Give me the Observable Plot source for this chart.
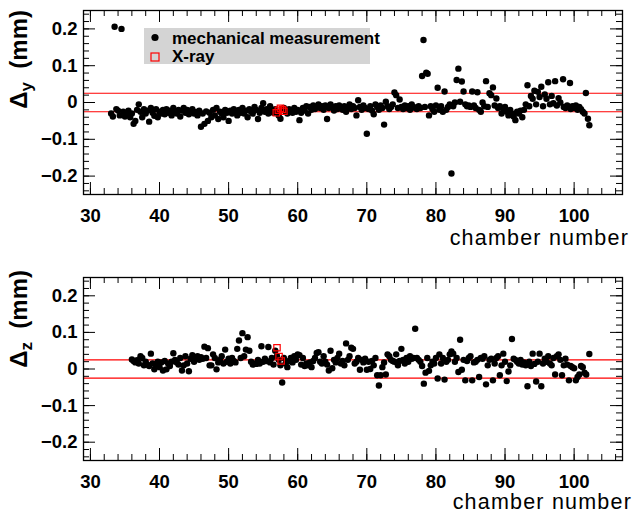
<!DOCTYPE html>
<html><head><meta charset="utf-8">
<script src="https://cdn.jsdelivr.net/npm/d3@7"></script>
<script src="https://cdn.jsdelivr.net/npm/@observablehq/plot@0.6"></script>
<style>
body{margin:0;background:#fff}
#c{width:634px;height:513px;overflow:hidden}
#c svg{display:block}
</style>
</head><body><div id="c"></div>
<script>
// [chamber number, Δy (mm)] – mechanical measurement
const mechY = [
[33.0,-0.030],[33.25,-0.038],[33.5,0.206],[33.75,-0.018],[34.0,-0.022],[34.25,-0.035],[34.5,0.200],[34.75,-0.025],
[35.0,-0.038],[35.25,-0.028],[35.5,-0.022],[35.75,-0.040],[36.0,-0.030],[36.25,-0.058],[36.5,-0.050],[36.75,-0.020],
[37.0,-0.005],[37.25,-0.025],[37.5,-0.040],[37.75,-0.018],[38.0,-0.030],[38.25,-0.022],[38.5,-0.052],[38.75,-0.015],
[39.0,-0.028],[39.25,-0.036],[39.5,-0.018],[39.75,-0.040],[40.0,-0.025],[40.25,-0.030],[40.5,-0.020],[40.75,-0.032],
[41.0,-0.018],[41.25,-0.028],[41.5,-0.022],[41.75,-0.035],[42.0,-0.015],[42.25,-0.025],[42.5,-0.030],[42.75,-0.020],
[43.0,-0.038],[43.25,-0.022],[43.5,-0.015],[43.75,-0.028],[44.0,-0.020],[44.25,-0.032],[44.5,-0.024],[44.75,-0.018],
[45.0,-0.030],[45.25,-0.026],[45.5,-0.035],[45.75,-0.022],[46.0,-0.066],[46.25,-0.030],[46.5,-0.058],[46.75,-0.024],
[47.0,-0.050],[47.25,-0.028],[47.5,-0.040],[47.75,-0.020],[48.0,-0.035],[48.25,-0.015],[48.5,-0.045],[48.75,-0.025],
[49.0,-0.030],[49.25,-0.040],[49.5,-0.020],[49.75,-0.028],[50.0,-0.050],[50.25,-0.022],[50.5,-0.030],[50.75,-0.018],
[51.0,-0.025],[51.25,-0.035],[51.5,-0.020],[51.75,-0.028],[52.0,-0.015],[52.25,-0.030],[52.5,-0.022],[52.75,-0.040],
[53.0,-0.018],[53.25,-0.025],[53.5,-0.030],[53.75,-0.012],[54.0,-0.020],[54.25,-0.045],[54.5,-0.028],[54.75,-0.015],
[55.0,-0.002],[55.25,-0.025],[55.5,-0.018],[55.75,-0.030],[56.0,-0.010],[56.25,-0.022],[56.5,-0.028],[56.75,-0.018],
[57.0,-0.025],[57.25,-0.035],[57.5,-0.044],[57.75,-0.020],[58.0,-0.015],[58.25,-0.025],[58.5,-0.030],[58.75,-0.018],
[59.0,-0.022],[59.25,-0.028],[59.5,-0.015],[59.75,-0.025],[60.0,-0.020],[60.25,-0.048],[60.5,-0.028],[60.75,-0.015],
[61.0,-0.022],[61.25,-0.010],[61.5,-0.030],[61.75,-0.012],[62.0,-0.020],[62.25,-0.008],[62.5,-0.018],[62.75,-0.012],
[63.0,-0.005],[63.25,-0.015],[63.5,-0.010],[63.75,-0.020],[64.0,-0.008],[64.25,-0.045],[64.5,-0.015],[64.75,-0.005],
[65.0,-0.012],[65.25,-0.022],[65.5,-0.010],[65.75,-0.018],[66.0,-0.008],[66.25,-0.015],[66.5,-0.020],[66.75,-0.010],
[67.0,-0.025],[67.25,-0.012],[67.5,-0.005],[67.75,-0.018],[68.0,-0.010],[68.25,-0.015],[68.5,-0.035],[68.75,0.006],
[69.0,-0.012],[69.25,-0.020],[69.5,-0.008],[69.75,-0.015],[70.0,-0.085],[70.25,-0.018],[70.5,-0.010],[70.75,-0.022],
[71.0,-0.032],[71.25,-0.005],[71.5,-0.012],[71.75,-0.020],[72.0,-0.008],[72.25,-0.015],[72.5,-0.060],[72.75,0.002],
[73.0,-0.010],[73.25,-0.018],[73.5,-0.012],[73.75,-0.005],[74.0,0.027],[74.25,0.020],[74.5,-0.015],[74.75,0.008],
[75.0,-0.012],[75.25,-0.018],[75.5,-0.008],[75.75,-0.015],[76.0,-0.010],[76.25,-0.020],[76.5,-0.005],[76.75,-0.012],
[77.0,-0.015],[77.25,-0.018],[77.5,-0.010],[77.75,-0.015],[78.0,0.072],[78.2,0.170],[78.4,-0.012],[78.6,0.081],
[78.8,0.078],[79.0,-0.035],[79.25,-0.010],[79.5,-0.018],[79.75,-0.025],[80.0,-0.008],[80.25,0.040],[80.5,-0.020],
[80.75,-0.010],[81.0,-0.025],[81.25,0.030],[81.5,-0.020],[81.75,-0.012],[82.0,-0.005],[82.25,-0.193],[82.5,-0.010],
[82.75,0.000],[83.0,0.061],[83.25,0.092],[83.5,0.002],[83.75,0.057],[84.0,0.030],[84.25,-0.005],[84.5,-0.010],
[84.75,-0.008],[85.0,-0.012],[85.25,0.030],[85.5,-0.008],[85.75,-0.015],[86.0,0.028],[86.25,-0.020],[86.5,-0.025],
[86.75,0.000],[87.0,-0.010],[87.25,0.058],[87.5,-0.012],[87.75,0.025],[88.0,0.020],[88.25,0.041],[88.5,-0.008],
[88.75,0.011],[89.0,-0.015],[89.25,-0.010],[89.5,-0.030],[89.75,-0.018],[90.0,-0.012],[90.25,-0.025],[90.5,-0.035],
[90.75,-0.020],[91.0,-0.030],[91.25,-0.038],[91.5,-0.048],[91.75,-0.025],[92.0,-0.030],[92.25,-0.022],[92.5,-0.040],
[92.75,-0.020],[93.0,-0.005],[93.25,0.047],[93.5,-0.010],[93.75,0.018],[94.0,0.010],[94.25,0.032],[94.5,-0.005],
[94.75,0.029],[95.0,0.015],[95.25,0.043],[95.5,-0.010],[95.75,0.022],[96.0,0.010],[96.25,0.055],[96.5,-0.005],
[96.75,0.018],[97.0,-0.002],[97.25,0.058],[97.5,-0.008],[97.75,0.012],[98.0,0.000],[98.4,0.063],[98.5,-0.012],
[98.75,-0.015],[99.0,-0.008],[99.4,0.053],[99.5,-0.018],[99.75,-0.010],[100.0,-0.015],[100.25,-0.008],[100.5,-0.020],
[100.75,-0.012],[101.0,-0.018],[101.25,-0.025],[101.5,-0.030],[101.7,0.026],[102.0,-0.044],[102.2,-0.062]
];
// [chamber number, Δy (mm)] – X-ray
const xrayY = [[56.9,-0.028],[57.2,-0.021],[57.5,-0.016],[57.8,-0.019],[58.0,-0.024]];

// [chamber number, Δz (mm)] – mechanical measurement
const mechZ = [
[36.0,0.026],[36.25,0.022],[36.5,0.018],[36.75,0.024],[37.0,0.015],[37.25,0.035],[37.5,0.030],[37.75,0.010],
[38.0,0.020],[38.25,0.012],[38.5,0.008],[38.75,0.042],[39.0,0.015],[39.25,-0.001],[39.5,0.010],[39.75,0.020],
[40.0,0.005],[40.25,0.018],[40.5,-0.004],[40.75,0.022],[41.0,-0.001],[41.25,0.015],[41.5,0.008],[41.75,0.020],
[42.0,0.043],[42.25,0.025],[42.5,0.018],[42.75,0.012],[43.0,0.030],[43.25,-0.004],[43.5,0.010],[43.75,0.035],
[44.0,0.015],[44.25,-0.006],[44.5,0.028],[44.75,0.038],[45.0,0.020],[45.25,0.030],[45.5,0.035],[45.75,0.025],
[46.0,0.032],[46.25,0.028],[46.5,0.061],[46.75,0.030],[47.0,0.057],[47.25,0.010],[47.5,0.010],[47.75,0.040],
[48.0,0.030],[48.25,-0.001],[48.5,0.018],[48.75,0.025],[49.0,0.035],[49.25,0.015],[49.5,0.053],[49.75,0.020],
[50.0,0.028],[50.25,0.015],[50.5,0.030],[50.75,0.022],[51.0,0.018],[51.25,0.055],[51.5,0.078],[51.75,0.030],
[52.0,0.098],[52.25,0.035],[52.5,0.053],[52.75,0.087],[53.0,0.050],[53.25,0.020],[53.5,0.012],[53.75,0.015],
[54.0,0.014],[54.25,0.025],[54.5,0.015],[54.75,0.062],[55.0,0.020],[55.25,0.028],[55.5,0.022],[55.75,0.060],
[56.0,0.018],[56.25,0.030],[56.5,0.012],[56.75,0.050],[57.0,0.035],[57.25,0.025],[57.5,0.010],[57.75,-0.037],
[58.0,0.030],[58.25,0.015],[58.5,0.005],[58.75,0.022],[59.0,0.030],[59.25,0.018],[59.5,0.035],[59.75,0.025],
[60.0,0.040],[60.25,0.038],[60.5,0.012],[60.75,0.030],[61.0,0.008],[61.25,0.015],[61.5,0.010],[61.75,0.018],
[62.0,0.005],[62.25,0.022],[62.5,0.030],[62.75,0.044],[63.0,0.046],[63.25,0.020],[63.5,0.015],[63.75,0.035],
[64.0,0.020],[64.25,0.012],[64.5,-0.004],[64.75,0.050],[65.0,0.002],[65.25,0.025],[65.5,0.018],[65.75,0.030],
[66.0,0.042],[66.25,0.015],[66.5,0.022],[66.75,0.010],[67.0,0.070],[67.25,0.025],[67.5,0.035],[67.75,0.058],
[68.0,0.055],[68.25,0.015],[68.5,0.020],[68.75,0.030],[69.0,-0.002],[69.25,0.025],[69.5,0.018],[69.75,0.028],
[70.0,-0.002],[70.25,0.020],[70.5,0.000],[70.75,0.022],[71.0,0.010],[71.25,0.030],[71.5,-0.017],[71.75,-0.045],
[72.0,-0.017],[72.25,0.005],[72.5,0.018],[72.75,-0.015],[73.0,0.040],[73.25,0.035],[73.5,0.025],[73.75,0.022],
[74.0,0.020],[74.25,0.040],[74.5,0.010],[74.75,0.022],[75.0,0.055],[75.25,0.025],[75.5,0.015],[75.75,0.030],
[76.0,0.020],[76.25,0.035],[76.5,0.028],[76.75,0.030],[77.0,0.110],[77.25,0.030],[77.5,0.025],[77.75,0.020],
[78.0,0.008],[78.25,-0.040],[78.5,-0.010],[78.75,0.030],[79.0,-0.005],[79.25,0.010],[79.5,0.020],[79.75,0.015],
[80.0,0.030],[80.25,-0.026],[80.5,0.040],[80.75,0.015],[81.0,0.030],[81.25,-0.029],[81.5,0.020],[81.75,0.025],
[82.0,0.040],[82.25,0.048],[82.5,0.042],[82.75,0.020],[83.0,0.030],[83.25,-0.008],[83.5,0.080],[83.75,-0.002],
[84.0,0.025],[84.25,-0.031],[84.5,0.022],[84.75,0.030],[85.0,0.035],[85.25,-0.031],[85.5,0.018],[85.75,0.020],
[86.0,0.025],[86.25,-0.022],[86.5,0.030],[86.75,0.028],[87.0,0.035],[87.25,-0.042],[87.5,0.010],[87.75,0.025],
[88.0,0.028],[88.25,-0.031],[88.5,0.015],[88.75,0.030],[89.0,0.035],[89.25,-0.017],[89.5,0.010],[89.75,0.042],
[90.0,0.020],[90.25,-0.033],[90.5,-0.007],[90.75,0.010],[91.0,0.082],[91.25,0.028],[91.5,0.025],[91.75,0.020],
[92.0,0.015],[92.25,0.025],[92.5,0.012],[92.75,0.018],[93.0,0.010],[93.25,-0.047],[93.5,0.020],[93.75,0.008],
[94.0,0.042],[94.25,0.014],[94.5,-0.034],[94.75,0.020],[95.0,0.042],[95.25,-0.047],[95.5,0.015],[95.75,0.028],
[96.0,0.020],[96.25,0.035],[96.5,0.015],[96.75,0.010],[97.0,0.030],[97.25,-0.015],[97.5,0.035],[97.75,0.040],
[98.0,0.025],[98.25,-0.017],[98.5,0.010],[98.75,0.028],[99.0,0.012],[99.25,-0.031],[99.5,0.008],[99.75,0.005],
[100.0,0.002],[100.25,-0.031],[100.5,-0.022],[100.75,-0.015],[101.0,0.008],[101.25,0.005],[101.5,-0.010],[101.75,-0.015],
[102.2,0.041]
];
// [chamber number, Δz (mm)] – X-ray
const xrayZ = [[57.0,0.058],[57.3,0.034],[57.6,0.022]];

const bandLimits = [-0.025, 0.025];
const xTicks = [30, 40, 50, 60, 70, 80, 90, 100];
const yTicks = [-0.2, -0.1, 0, 0.1, 0.2];
const xMinorTicks = [30,32,34,36,38,40,42,44,46,48,50,52,54,56,58,60,62,64,66,68,70,72,74,76,78,80,82,84,86,88,90,92,94,96,98,100,102,104,106];
const yMinorTicks = [-0.24,-0.22,-0.2,-0.18,-0.16,-0.14,-0.12,-0.1,-0.08,-0.06,-0.04,-0.02,0,0.02,0.04,0.06,0.08,0.1,0.12,0.14,0.16,0.18,0.2,0.22,0.24];
const xTitle = "chamber number";
const legendLabels = ["mechanical measurement", "X-ray"];

const FONT = "'Liberation Sans', Arial, Helvetica, sans-serif";
const W = 634, ML = 83, MR = 12;
const fmtY = d => d === 0 ? "0" : (d < 0 ? "\u2212" : "") + Math.abs(d).toFixed(1);

function panel({mech, xray, height, mt, mb, tickDy, titleY, titleX, sub, labelEnd}) {
  const fh = height - mt - mb, fw = W - ML - MR;
  const svg = Plot.plot({
    width: W, height, marginTop: mt, marginBottom: mb, marginLeft: ML, marginRight: MR,
    style: {fontFamily: FONT, background: "white", overflow: "visible"},
    x: {domain: [29, 107], axis: null},
    y: {domain: [-0.25, 0.25], axis: null},
    marks: [
      Plot.ruleY(bandLimits, {stroke: "#f00", strokeWidth: 1.1}),
      Plot.dot(mech, {x: d => d[0], y: d => d[1], r: 3.2, fill: "black", stroke: "none"}),
      Plot.dot(xray, {x: d => d[0], y: d => d[1], symbol: "square", r: 3.6, fill: "none", stroke: "#f00", strokeWidth: 1.2}),
      Plot.tickX(xTicks, {x: d => d, insetTop: fh - 12, stroke: "black"}),
      Plot.tickX(xTicks, {x: d => d, insetBottom: fh - 12, stroke: "black"}),
      Plot.tickX(xMinorTicks, {x: d => d, insetTop: fh - 6, stroke: "black"}),
      Plot.tickX(xMinorTicks, {x: d => d, insetBottom: fh - 6, stroke: "black"}),
      Plot.tickY(yTicks, {y: d => d, insetRight: fw - 12, stroke: "black"}),
      Plot.tickY(yTicks, {y: d => d, insetLeft: fw - 12, stroke: "black"}),
      Plot.tickY(yMinorTicks, {y: d => d, insetRight: fw - 6, stroke: "black"}),
      Plot.tickY(yMinorTicks, {y: d => d, insetLeft: fw - 6, stroke: "black"}),
      Plot.frame({stroke: "black", strokeWidth: 1.3}),
      Plot.text(xTicks, {x: d => d, text: d => String(d), frameAnchor: "bottom", dy: tickDy, lineAnchor: "bottom",
        fontSize: 18.5, fontWeight: "bold", fill: "black"}),
      Plot.text(yTicks, {y: d => d, text: fmtY, frameAnchor: "left", dx: -6, textAnchor: "end", lineAnchor: "middle",
        fontSize: 18.5, fontWeight: "bold", fill: "black"})
    ]
  });
  const s = d3.select(svg);
  // x-axis title
  s.append("text")
    .attr("x", titleX).attr("y", titleY)
    .attr("text-anchor", "end")
    .attr("font-family", FONT).attr("font-size", 21.5).attr("letter-spacing", "1.2px").attr("fill", "black")
    .text(xTitle);
  // y-axis title with subscript
  const t = s.append("text")
    .attr("transform", `translate(27,${labelEnd}) rotate(-90)`)
    .attr("text-anchor", "end")
    .attr("font-family", FONT).attr("font-weight", "bold").attr("font-size", 24).attr("fill", "black");
  t.append("tspan").text("\u0394");
  t.append("tspan").attr("font-size", 17).attr("dy", 5).text(sub);
  t.append("tspan").attr("dy", -5).text("\u00a0\u00a0(mm)");
  return svg;
}

const topSvg = panel({mech: mechY, xray: xrayY, height: 256, mt: 10, mb: 62, tickDy: 27, titleY: 245, titleX: 629, sub: "y", labelEnd: 10});
const g = d3.select(topSvg).append("g").attr("font-family", FONT).attr("font-weight", "bold").attr("font-size", 17)
  .attr("text-anchor", "start");
g.append("rect").attr("x", 144).attr("y", 28).attr("width", 226).attr("height", 36).attr("fill", "#d4d4d4");
g.append("circle").attr("cx", 155).attr("cy", 37.5).attr("r", 3.6).attr("fill", "black");
g.append("text").attr("x", 172).attr("y", 44).attr("text-anchor", "start").attr("fill", "black").text(legendLabels[0]);
g.append("rect").attr("x", 151).attr("y", 53).attr("width", 8).attr("height", 8).attr("fill", "none").attr("stroke", "#f00").attr("stroke-width", 1.2);
g.append("text").attr("x", 172).attr("y", 62).attr("text-anchor", "start").attr("fill", "black").text(legendLabels[1]);

const bottomSvg = panel({mech: mechZ, xray: xrayZ, height: 257, mt: 21, mb: 53, tickDy: 27, titleY: 253, titleX: 632, sub: "z", labelEnd: 14});

document.getElementById("c").append(topSvg, bottomSvg);
</script>
</body></html>
